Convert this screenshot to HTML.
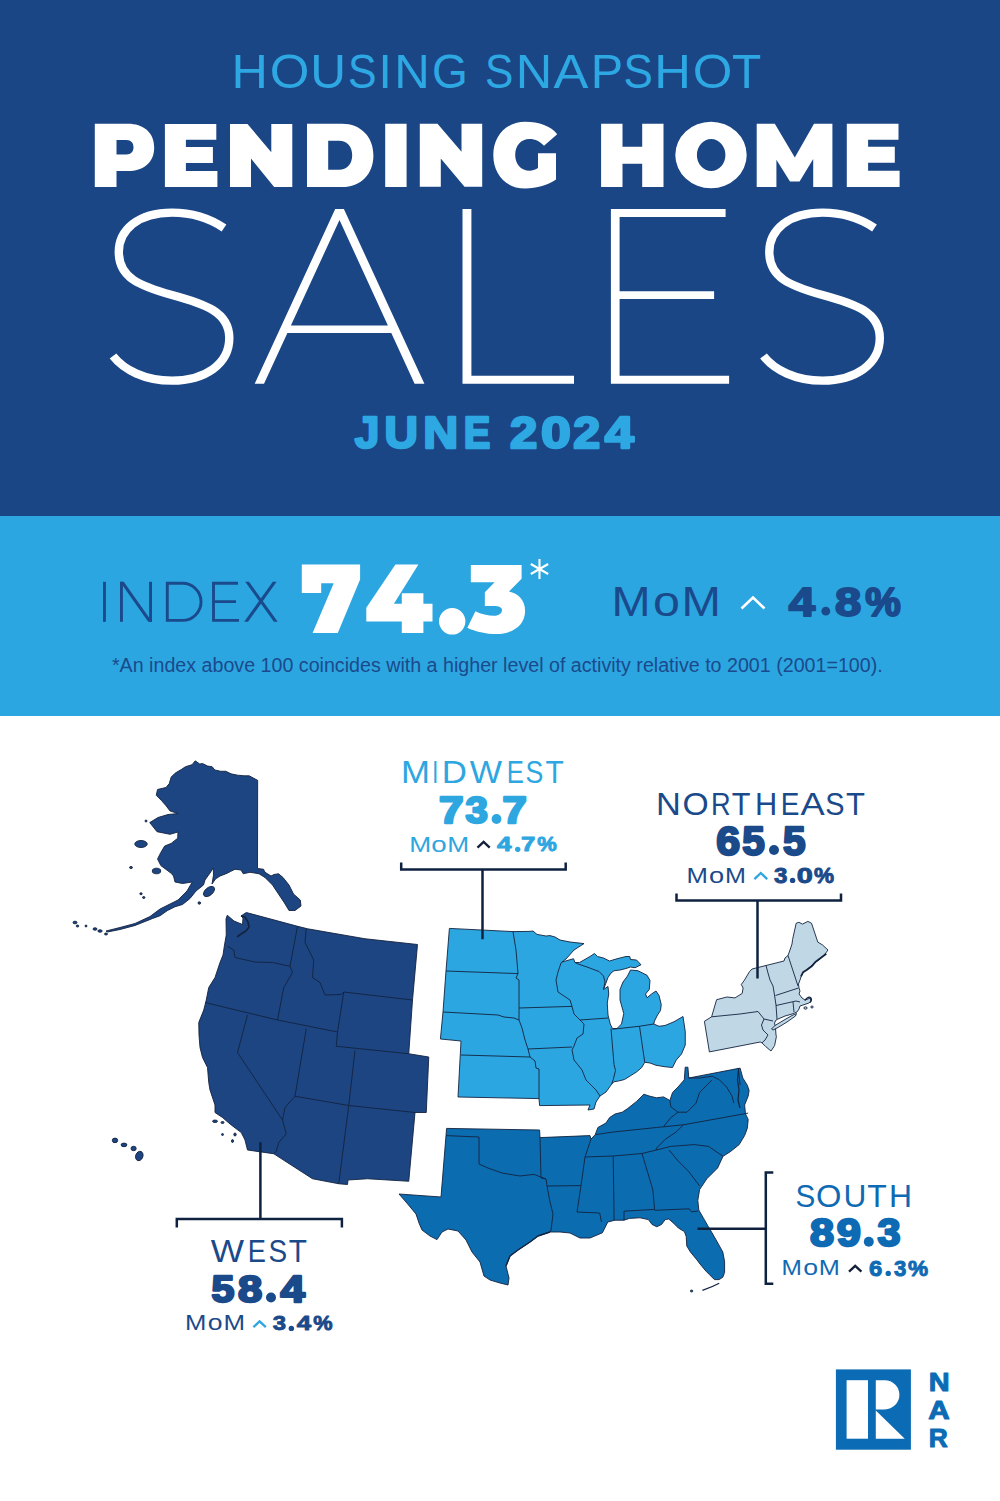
<!DOCTYPE html>
<html><head><meta charset="utf-8"><title>Pending Home Sales June 2024</title>
<style>
html,body{margin:0;padding:0;background:#fff;width:1000px;height:1501px;overflow:hidden}
svg{display:block}
text{font-family:"Liberation Sans",sans-serif}
</style></head><body>
<svg width="1000" height="1501" viewBox="0 0 1000 1501">
<rect x="0" y="0" width="1000" height="516" fill="#1b4686"/>
<rect x="0" y="516" width="1000" height="200" fill="#2ca6e0"/>
<!-- HEADER -->
<text id="t_hs_0" x="231.43" y="88.4" font-size="48.44" fill="#2ea8e2" textLength="36.39" lengthAdjust="spacingAndGlyphs">H</text>
<text id="t_hs_1" x="269.7" y="88.4" font-size="48.44" fill="#2ea8e2" textLength="39.66" lengthAdjust="spacingAndGlyphs">O</text>
<text id="t_hs_2" x="310.36" y="88.4" font-size="48.44" fill="#2ea8e2" textLength="35.78" lengthAdjust="spacingAndGlyphs">U</text>
<text id="t_hs_3" x="347.98" y="88.4" font-size="48.44" fill="#2ea8e2" textLength="28.57" lengthAdjust="spacingAndGlyphs">S</text>
<text id="t_hs_4" x="378.4" y="88.4" font-size="48.44" fill="#2ea8e2" textLength="13.34" lengthAdjust="spacingAndGlyphs">I</text>
<text id="t_hs_5" x="394.16" y="88.4" font-size="48.44" fill="#2ea8e2" textLength="35.52" lengthAdjust="spacingAndGlyphs">N</text>
<text id="t_hs_6" x="431.98" y="88.4" font-size="48.44" fill="#2ea8e2" textLength="35.83" lengthAdjust="spacingAndGlyphs">G</text>
<text id="t_hs_7" x="484.91" y="88.4" font-size="48.44" fill="#2ea8e2" textLength="28.35" lengthAdjust="spacingAndGlyphs">S</text>
<text id="t_hs_8" x="515.67" y="88.4" font-size="48.44" fill="#2ea8e2" textLength="36.48" lengthAdjust="spacingAndGlyphs">N</text>
<text id="t_hs_9" x="553.49" y="88.4" font-size="48.44" fill="#2ea8e2" textLength="34.89" lengthAdjust="spacingAndGlyphs">A</text>
<text id="t_hs_10" x="590.8" y="88.4" font-size="48.44" fill="#2ea8e2" textLength="32.37" lengthAdjust="spacingAndGlyphs">P</text>
<text id="t_hs_11" x="623.43" y="88.4" font-size="48.44" fill="#2ea8e2" textLength="29.39" lengthAdjust="spacingAndGlyphs">S</text>
<text id="t_hs_12" x="654.35" y="88.4" font-size="48.44" fill="#2ea8e2" textLength="36.63" lengthAdjust="spacingAndGlyphs">H</text>
<text id="t_hs_13" x="692.7" y="88.4" font-size="48.44" fill="#2ea8e2" textLength="39.66" lengthAdjust="spacingAndGlyphs">O</text>
<text id="t_hs_14" x="731.9" y="88.4" font-size="48.44" fill="#2ea8e2" textLength="29.28" lengthAdjust="spacingAndGlyphs">T</text>
<g fill="#fff" stroke="#fff" stroke-width="6" stroke-linejoin="round" font-weight="bold">
</g>
<g fill="#fff" fill-rule="evenodd">
<path d="M94.8,123.8 H128 C143,123.8 154.2,132 154.2,147.5 C154.2,163 143,171 128,171 H116.5 V187 H94.8 Z M116.5,140 V154.5 H126.5 C131,154.5 133.5,151.6 133.5,147.3 C133.5,143 131,140 126.5,140 Z"/>
<path d="M164.9,123.9 H216.3 V139.7 H185.9 V147.1 H212.9 V163.1 H185.9 V170.9 H217.4 V186.9 H164.9 Z"/>
<path d="M230,123.9 H247.5 L271.3,152.3 V123.9 H292.3 V186.9 H274.1 L251,158.6 V186.9 H230 Z"/>
<path d="M307,123.8 H342 C361,123.8 373.4,137 373.4,155.4 C373.4,174 361,187 342,187 H307 Z M328.2,140.8 V169.8 H339 C347,169.8 352.2,164 352.2,155.3 C352.2,146.6 347,140.8 339,140.8 Z"/>
<path d="M385.2,123.8 H406.6 V187 H385.2 Z"/>
<path d="M419.8,123.7 H437.5 L461.5,151.75 V123.7 H482.2 V186.7 H464.5 L440.8,158.5 V186.7 H419.8 Z"/>
<path d="M557.2,134.2 C551,126 539,121.75 525.25,121.75 C506,121.75 493.3,136 493.3,155.1 C493.3,174.5 506,188.5 525.25,188.5 C537,188.5 548,185 556,179.5 V153.25 H538 V168 C535,169.8 532,170.8 529.75,170.8 C521,170.8 515.2,164 515.2,155 C515.2,145.5 521,139 529.5,139 C535.5,139 540,141.5 544,145.75 Z"/>
<path d="M601.1,123.8 H622.5 V146.7 H642.2 V123.8 H663.5 V187 H642.2 V163.8 H622.5 V187 H601.1 Z"/>
<path d="M675.3,155 A35.7,33.3 0 1 0 746.7,155 A35.7,33.3 0 1 0 675.3,155 Z M696.9,155 A14.25,16 0 1 1 725.4,155 A14.25,16 0 1 1 696.9,155 Z"/>
<path d="M756.7,123.8 H774.8 L794.8,157.4 L814,123.8 H832.4 V187 H813.2 V159 L799.6,181.4 H790 L776.4,159.8 V187 H756.7 Z"/>
<path d="M846.8,123.8 H898.5 V139.8 H868.1 V146.7 H894.8 V162.7 H868.1 V170.7 H899.6 V187 H846.8 Z"/>
</g>
<!-- SALES -->
<path fill="#fff" fill-rule="evenodd" d="M254.7,383.8 L335.2,209.1 L343.9,209.1 L424.4,383.8 L414.6,383.8 L391.3,333 L287.4,333 L264,383.8 Z M290.9,325.5 L339.5,220 L387.9,325.5 Z"/>
<path fill="#fff" d="M462.5,209.1 H471.4 V375.7 H574 V383.8 H462.5 Z M610.9,209.1 H725.6 V217.1 H619.6 V291.3 H714.1 V299.1 H619.6 V375.7 H729.1 V383.8 H610.9 Z"/>
<g fill="none" stroke="#fff" stroke-width="8.4">
<path d="M224,228 C210,218.5 192,212.6 172,212.6 C138,212.6 118.8,230 118.8,252 C118.8,278 140,286 172,295 C205,304 229.3,312 229.3,338 C229.3,364 205,380.6 172,380.6 C145,380.6 124,370 113,356"/>
<path transform="translate(650.5,0)" d="M224,228 C210,218.5 192,212.6 172,212.6 C138,212.6 118.8,230 118.8,252 C118.8,278 140,286 172,295 C205,304 229.3,312 229.3,338 C229.3,364 205,380.6 172,380.6 C145,380.6 124,370 113,356"/>
</g>
<g fill="#2ea8e2" stroke="#2ea8e2" stroke-width="2.5" stroke-linejoin="round" font-weight="bold">
<text id="t_june_0" x="354.7" y="447.64" font-size="45.07" textLength="24.52" lengthAdjust="spacingAndGlyphs">J</text>
<text id="t_june_1" x="384.63" y="447.64" font-size="45.07" textLength="33.41" lengthAdjust="spacingAndGlyphs">U</text>
<text id="t_june_2" x="423.36" y="447.64" font-size="45.07" textLength="34.92" lengthAdjust="spacingAndGlyphs">N</text>
<text id="t_june_3" x="463.75" y="447.64" font-size="45.07" textLength="26.56" lengthAdjust="spacingAndGlyphs">E</text>
<text id="t_2024_0" x="510.13" y="447.64" font-size="45.07" textLength="27.24" lengthAdjust="spacingAndGlyphs">2</text>
<text id="t_2024_1" x="541.02" y="447.64" font-size="45.07" textLength="29.85" lengthAdjust="spacingAndGlyphs">0</text>
<text id="t_2024_2" x="573.27" y="447.64" font-size="45.07" textLength="26.91" lengthAdjust="spacingAndGlyphs">2</text>
<text id="t_2024_3" x="604.68" y="447.64" font-size="45.07" textLength="29.07" lengthAdjust="spacingAndGlyphs">4</text>
</g>
<!-- INDEX BAND -->
<g fill="#1b4a8c">
<rect x="103" y="581.8" width="2.9" height="40"/>
<rect x="120" y="581.8" width="2.9" height="40"/>
<rect x="149.1" y="581.8" width="2.9" height="40"/>
<polygon points="120,581.8 123.8,581.8 152,621.8 148.2,621.8"/>
<polygon points="245.2,581.8 249,581.8 277.7,621.8 273.9,621.8"/>
<polygon points="272.8,581.8 276.6,581.8 248,621.8 244.2,621.8"/>
</g>
<g fill="none" stroke="#1b4a8c" stroke-width="2.9">
<path d="M167.3,583.25 H182.5 A18.55,18.55 0 0 1 182.5,620.35 H167.3 Z"/>
<path d="M238,583.25 H213.5 V620.35 H239 M213.5,601.6 H236"/>
</g>
<path d="M539.5,559 V579.1 M530.8,564 L548.2,574 M530.8,574 L548.2,564" stroke="#fff" stroke-width="2.1" fill="none"/>
<g fill="#fff" stroke="#fff" stroke-width="6" stroke-linejoin="round" font-weight="bold">
<circle cx="452.2" cy="621.3" r="10.2"/>
<g stroke="none">
<path d="M301.8,564.5 H360.1 V579.6 L337.8,632.9 H312.6 L333.7,583.2 H321.2 V592.9 H301.8 Z"/>
<path d="M395.4,564.5 H418.4 L393.9,603.8 H401.8 V593.3 H423.4 V603.8 H432.5 V621.4 H423.4 V632.9 H401.8 V621.4 H366.3 V607.7 Z"/>
<path d="M470.85,565 H521.6 V578.65 L509,591.6 C518,593.5 525.1,600 525.1,611 C525.1,625 513,634 496.4,634 C486,634 475,631.5 467.35,627.65 L475.4,611.2 C481,614 488,615.75 494,615.75 C499,615.75 502,613 502,610 C502,607.5 499,606 493.6,606 H484.85 V592.3 L494.65,582.15 H470.85 Z"/>
</g>
</g>
<text id="t_mom0_0" x="611.58" y="615.83" font-size="42.14" fill="#1b4a8c" textLength="39.07" lengthAdjust="spacingAndGlyphs">M</text>
<text id="t_mom0_1" x="653.09" y="615.83" font-size="42.14" fill="#1b4a8c" textLength="26.91" lengthAdjust="spacingAndGlyphs">o</text>
<text id="t_mom0_2" x="681.52" y="615.83" font-size="42.14" fill="#1b4a8c" textLength="39.41" lengthAdjust="spacingAndGlyphs">M</text>
<polyline points="741.5,608.5 753,597.5 764.5,608.5" fill="none" stroke="#fff" stroke-width="2.6"/>
<text id="t_48_0" x="788.72" y="615.5" font-size="40.13" fill="#1b4a8c" stroke="#1b4a8c" stroke-width="2" stroke-linejoin="round" font-weight="bold" textLength="26.34" lengthAdjust="spacingAndGlyphs">4</text>
<text id="t_48_2" x="834.94" y="615.5" font-size="40.13" fill="#1b4a8c" stroke="#1b4a8c" stroke-width="2" stroke-linejoin="round" font-weight="bold" textLength="26.27" lengthAdjust="spacingAndGlyphs">8</text>
<text id="t_48_3" x="865.15" y="615.5" font-size="40.13" fill="#1b4a8c" stroke="#1b4a8c" stroke-width="2" stroke-linejoin="round" font-weight="bold" textLength="35.5" lengthAdjust="spacingAndGlyphs">%</text>
<text id="t_foot" x="111.98" y="671.75" font-size="19.6" fill="#1b4a8c" textLength="770.76" lengthAdjust="spacingAndGlyphs">*An index above 100 coincides with a higher level of activity relative to 2001 (2001=100).</text>
<!-- MAP -->
<g fill="#1c4582" stroke="#13233f" stroke-width="0.9" stroke-linejoin="round">
<path d="M227.25,915.25 234,921 242.5,924.5 243,918 241,916 246.25,912.5 297.5,926.25 307.5,928.75 365,938.75 417.5,944.5 412.5,1000 408.75,1053.75 428.75,1057 426.25,1112.5 415,1112.5 408.75,1181.25 367.5,1178.75 348,1180 347.5,1184.5 338.75,1183.75 312.5,1178.75 273.75,1153.75 247.5,1150 245,1140 241.25,1132.5 231.25,1125 222.5,1117.5 215,1112.5 215,1105 210,1090 208.75,1082.5 207.5,1067.5 202.5,1057.5 200,1047.5 199,1035 198.75,1022.5 203.75,1010 206.25,1000 208.75,987.5 215,977.5 220,962.5 223,955 224.5,945 226.25,935 226,919Z"/>
<path fill="none" stroke-width="1.6" d="M241,916 L245,917 L248,922 L249,927 L246,931 L241,934 L237,937"/>
<path fill="none" d="M227.5,946.25 233.75,950 235,957.5 255,962 272.5,962.5 290,966.25 M297.5,926.25 290,966.25 M290,966.25 292.5,972.5 283.75,987.5 277.5,1020 M205,1002.5 277.5,1020 M277.5,1020 337.5,1032 M306.25,928.75 305,942.5 313.75,960 312.5,977.5 320,982.5 325,995 341.25,994.5 343.75,992 M343.75,992 337.5,1032 336.25,1046.25 408.75,1053.75 M343.75,992 412.5,1000 M355,1050.5 348.75,1105.5 338.75,1183.75 M348.75,1105.5 415,1112.5 M306.25,1028.75 295,1096.25 348.75,1105.5 M295,1096.25 285,1107.5 282.5,1120 286.25,1133.75 278.75,1142.5 276.25,1151.25 273.75,1153.75 M247.5,1015 237.5,1052.5 282.5,1120"/>
</g>
<g fill="#1c4582" stroke="#13233f" stroke-width="0.9" stroke-linejoin="round">
<path d="M195.25,760.85 199.8,764.1 202.4,763.45 207.6,766.05 212.15,766.7 214.75,769.95 220.6,771.25 225.8,771.25 231,773.85 237.5,775.15 244,775.8 249.2,775.8 257.65,780.35 257.5,868.5 263.5,869.25 265,872.25 271,876 274,874.5 278.5,873.75 283,877.5 289,885 293.5,894 300.25,900 301,906 295,910.5 289,910.5 284.5,903 278.5,894 272.5,885 265,877.5 259,873.75 250,872.25 243.25,873.75 241,870 235,869.25 230.5,871.5 226,873.75 220,876 215.5,879 212,884 213.5,875 213.25,868 210,873 205,880 203.5,885 196,891 190,898.5 182.5,904.5 175,906.75 167.5,910.5 160,915.75 152.5,918.5 135,925.5 120,929.5 107.5,932 106,931 120,927.5 135,923.5 150,916.5 160,909 169,904.5 178,900 187,891 192.25,882 182.5,883.5 175,882 173.5,876 171.2,873.3 166,869.4 160.8,865.5 157.55,859 160.8,852.5 164.7,846 171.2,843.4 177.7,838.2 178,832 170,834.3 157,831.7 149.75,822.6 158,817.5 168,814.5 178,813.5 170,810.9 166,805.7 161.45,800.5 156.25,795.3 157.55,789.45 166,787.5 169.25,783.6 171.2,777.1 175.1,773.2 181.6,769.3 185.5,766.7 192,764.75Z"/>
<ellipse cx="141" cy="844" rx="6.25" ry="3.5"/>
<ellipse cx="156.5" cy="871" rx="4.2" ry="2.8"/>
<ellipse cx="131" cy="867.5" rx="1.5" ry="1"/>
<ellipse cx="141" cy="893.75" rx="1.2" ry="1"/>
<ellipse cx="143.75" cy="897.5" rx="1.2" ry="1"/>
<ellipse cx="199.3" cy="903" rx="1.3" ry="1.2"/>
<ellipse cx="146" cy="821" rx="1" ry="1"/>
<ellipse cx="75" cy="922.5" rx="2" ry="1.3"/>
<ellipse cx="77.5" cy="926" rx="1.3" ry="1"/>
<ellipse cx="86" cy="926" rx="1" ry="1"/>
<ellipse cx="95" cy="929" rx="2" ry="1.2"/>
<ellipse cx="100" cy="931" rx="2.2" ry="1.2"/>
<ellipse cx="106" cy="934" rx="1.5" ry="1"/>
<ellipse cx="209" cy="891.5" rx="6.5" ry="3.8" transform="rotate(-40 209 891.5)"/>
<ellipse cx="115" cy="1140.4" rx="2.7" ry="2.3"/>
<ellipse cx="124" cy="1144.9" rx="2.9" ry="1.8"/>
<ellipse cx="133.6" cy="1148.5" rx="2.6" ry="2.2"/>
<ellipse cx="139.3" cy="1156" rx="3.6" ry="4.8" transform="rotate(20 139.3 1156)"/>
<ellipse cx="215" cy="1121.25" rx="2.5" ry="1.2"/>
<ellipse cx="222.5" cy="1122.5" rx="1.5" ry="1"/>
<ellipse cx="222.5" cy="1134.5" rx="1" ry="1"/>
<ellipse cx="235" cy="1134.5" rx="1.2" ry="1.5"/>
<ellipse cx="232.5" cy="1141" rx="1" ry="1.5"/>
</g>
<g fill="#2ca6e1" stroke="#13233f" stroke-width="0.9" stroke-linejoin="round">
<path d="M449.4,928.4 513,931.6 529,931.4 533,931 537,934.4 546,936 550,935.6 555,937 560,940 570,942 584,943.6 574,950 566,959 562,962 573.5,958.75 575,962.5 579.5,962.5 590,956.5 594.5,953.5 597.5,956.5 603.5,958 609.5,961 617,958.75 626,956.5 629.75,956.5 630.5,959.5 636.5,960 641,964.75 635,967.75 630.5,967 626,968.5 620,970 614,970.75 611,973 608,977.5 605.75,983.5 603.5,989.5 608,986.5 608.75,994 607.25,1003 608,1015 610.25,1024 612.5,1028.5 617,1028.5 621.5,1024 623.75,1013.5 620,1000 620,989.5 623,982 627.5,976 630.5,970 638,970.75 647,975.25 650,980.5 649.25,989.5 645.5,994 647,997.75 651.5,994 656,991 659,995.5 661.25,1004.5 660.5,1010.5 657.5,1015 654.5,1021 653.75,1024 659,1026.25 665,1025.5 674,1021.75 683,1016.5 685.25,1031.5 685.25,1045 681.5,1054 676.25,1060 672.5,1067.5 665,1066.75 656,1065.25 650,1063 644.75,1062.25 641.75,1067.5 636.5,1072 630.5,1075.75 624.5,1079.5 618.5,1081 614,1081.75 611.75,1084 606,1092 600,1096 596,1102 594,1109 588,1110 590,1105 539.6,1105.6 539,1098.6 458,1097 461,1041 440.4,1039 443,1012 446,971Z"/>
<path fill="none" d="M446,971 518,973.6 M513,931.6 516,950 518,973.6 516,978 519,980 519,1008 519,1020 M443,1012 498,1015 504,1017 514,1018 519,1020 M519,1008 572,1006.4 M572,1006.4 570,1000 558,992 556,980 558,972 561,963 562,962 M519,1020 522,1028 525,1040 528,1049 530,1057 M461,1055 530,1057 535,1061 536,1068 539,1069 539,1098.6 M528,1049 572,1047 M572,1006.4 574,1014 580,1020 584,1024 583,1034 577,1038 574,1046 572,1050 574,1060 582,1070 586,1080 590,1084 596,1090 600,1096 M580,1020 608,1018 M611,1028.5 614,1064.5 615.5,1070.5 613.25,1079.5 611.75,1084 M612.5,1029.25 639.5,1026.25 653.75,1024 M639.5,1026.25 644.75,1062.25 M575,962.5 578,964 587,967 599,971.5 603.5,976 605,982 603.5,989.5"/>
</g>
<g fill="#c0d8e6" stroke="#13233f" stroke-width="0.9" stroke-linejoin="round">
<path d="M709.4,1051.9 704.4,1021.3 711.6,1016.8 716.6,999.7 726.9,997 735,997.9 742.2,993.4 743.1,988 741.3,984.4 744,980.8 749.4,971.8 752,969 766,965.5 784,961 785,958 788,955.5 790,950 792,944 792.6,939.4 796.2,923.2 798.9,922.3 802.5,924.1 807.9,921.4 811.5,923.2 817.8,942.1 822.3,944.8 828,950 825,954 820,959 814,963 810,967 805,971 802,974 800,980 798.5,984 799,988 800,991 799,994 802,998 805,1000 808,999 810,998 811,1001 809,1003 806,1004 803,1005 800,1006 799,1009 797,1012 792,1014 785,1016 778,1019 776,1020 774.5,1023 775.5,1028 776,1035 776.4,1036.6 774.6,1045.6 771,1051 765.6,1046.5 762,1042.9 760.2,1042Z"/>
<path d="M771.5,1029 775,1025.5 785,1019.5 792,1015.5 796.5,1013.5 795.5,1016 787,1022 778,1027.5 773,1030Z"/>
<path fill="none" stroke-width="1.8" d="M801,976.3 L803,972.3 L807,969.7 L811.7,966.3 L815.7,961.7 L821,957.7 L826.3,953.7"/>
<path fill="none" stroke-width="1.3" d="M805,1000.5 Q808,996 810.5,997.5 Q812.5,1000 810,1002.5"/>
<ellipse cx="805.5" cy="1008" rx="1.6" ry="1.2"/><ellipse cx="812" cy="1007" rx="1.2" ry="1"/>
<path fill="none" d="M711.6,1016.8 740,1014 758,1011.5 760,1014 764,1019 773,1021 M764,1019 761.5,1025 763,1030 768,1035 765,1040 762,1042.9 M766,965.5 768,973 770,980 773,986 774.5,995 776,1005 777,1019 M788,955.5 798,986 M775.5,995.5 798.5,988 M776,1005.5 796,1001 800,1002 M793,1002 794,1012"/>
</g>
<g fill="#0b6cb0" stroke="#13233f" stroke-width="0.9" stroke-linejoin="round">
<path d="M446.6,1128.4 539.6,1130 540,1137.6 590,1135.6 591,1139 595.2,1134.7 597.9,1127.5 606,1123 609.6,1117.6 615,1114 622.2,1112.2 627.6,1108.6 636.6,1101.4 643.8,1094.2 649.2,1096 656.4,1097.8 663.6,1096.9 669.9,1100.5 672.6,1092.4 678,1087 684.3,1079.8 685.2,1067.2 687.9,1067.2 688.8,1078 740.1,1068.1 742.8,1078 747.3,1085.2 749.1,1090.6 748.2,1096 744.6,1105 745.5,1114 748.2,1119.4 747.3,1128.4 744.6,1135.6 739.2,1144.6 730.2,1151.8 723,1156.3 717.6,1168 706.8,1178.8 699.6,1189.6 697.8,1200.4 698.8,1210 703.6,1218.4 708.4,1226.8 712,1232.8 716.8,1241.2 722.8,1252 724.6,1261.6 724.6,1272.4 722.8,1277.2 719.2,1279.6 714.4,1279.6 709.6,1274.8 706,1271.2 700,1264 696.4,1259.2 690.4,1252 686.8,1246 686.2,1236.4 684.4,1231.6 678.4,1228 673.6,1223.2 668.8,1219 665.2,1219.6 661.6,1224.4 656.8,1226.8 652,1224.4 648.4,1219.6 640,1217.8 629.4,1218.4 624,1220.2 615,1220.2 607.8,1222 602.4,1232.8 590,1238 580,1238 570,1233 560,1232 550,1232 538,1236 530,1242 518,1250 510,1256 506,1266 509,1278 508,1285 500,1283 490,1280 484,1276 480,1262 472,1252 466,1240 458,1231 448,1229 442,1232 437,1239.6 430,1236 422,1230 419,1223 416,1214 406,1202 399,1194 441,1197 446,1135.6Z"/>
<path fill="none" stroke-width="1.4" d="M506,1266 L510,1256 L518,1250 L530,1242 L538,1236 L550,1232"/>
<path fill="none" stroke-width="1.2" d="M738.5,1070 L737.5,1080 L739,1090 L738,1100 L740,1108"/>
<path fill="none" stroke="#13233f" stroke-width="1.2" d="M702.4,1290.4 Q712,1287 719.2,1283.2"/><ellipse cx="691.6" cy="1291" rx="1.2" ry="1"/>
<path fill="none" d="M446,1135.6 479,1137 479,1164 488,1168 502,1173 520,1176 534,1174.4 546,1179 M540,1137.6 541,1178 546,1179 547,1186 550,1202 553,1214 551,1230 550,1232 M547,1186 581,1185.6 M591,1139 585,1157 581,1185.6 577,1212 599.7,1213 601.5,1222 M595.2,1134.7 613.2,1132 656.4,1127.5 683.4,1124.8 748.2,1113.1 M663.6,1126.6 670.8,1117.6 678,1112.2 M669.9,1100.5 670.8,1106.8 678,1112.2 687,1112.2 696,1103.2 699.6,1092.4 706.8,1085.2 712.2,1079.8 M688.8,1078 699.6,1078 712.2,1076.2 719.4,1079.8 726.6,1087 732,1096 733.8,1103.2 M738.3,1068.1 740.1,1085.2 M683.4,1124.8 676.2,1132 665.4,1139.2 656.4,1148.2 656.4,1150 M585,1157 613.2,1156 642,1153.5 656.4,1150 670.8,1146.4 694.2,1144.6 708.6,1146.4 723,1156.3 M669,1150 678,1160.8 688.8,1171.6 699.6,1186 M613.2,1156.3 614.1,1220.2 M642,1153.6 652.8,1189.6 654.6,1209.4 624,1211.2 624,1220.2 M654.6,1210.3 689.2,1208.8 691.6,1211.8 698,1211"/>
</g>
<!-- /MAP -->
<!-- REGION LABELS -->
<g>
<text id="r_mw_0" font-size="31.96" x="400.96" y="782.98" fill="#2ea6e0" textLength="28.98" lengthAdjust="spacingAndGlyphs">M</text>
<text id="r_mw_1" font-size="31.96" x="432.3" y="782.98" fill="#2ea6e0" textLength="6.03" lengthAdjust="spacingAndGlyphs">I</text>
<text id="r_mw_2" font-size="31.96" x="441.86" y="782.98" fill="#2ea6e0" textLength="25.17" lengthAdjust="spacingAndGlyphs">D</text>
<text id="r_mw_3" font-size="31.96" x="469.7" y="782.98" fill="#2ea6e0" textLength="32.3" lengthAdjust="spacingAndGlyphs">W</text>
<text id="r_mw_4" font-size="31.96" x="506.63" y="782.98" fill="#2ea6e0" textLength="17.12" lengthAdjust="spacingAndGlyphs">E</text>
<text id="r_mw_5" font-size="31.96" x="525.44" y="782.98" fill="#2ea6e0" textLength="17.82" lengthAdjust="spacingAndGlyphs">S</text>
<text id="r_mw_6" font-size="31.96" x="545.62" y="782.98" fill="#2ea6e0" textLength="18.28" lengthAdjust="spacingAndGlyphs">T</text>
<text id="r_ne_0" font-size="30.44" x="655.91" y="814.66" fill="#1b4a8a" textLength="24.81" lengthAdjust="spacingAndGlyphs">N</text>
<text id="r_ne_1" font-size="30.44" x="682.55" y="814.66" fill="#1b4a8a" textLength="26.21" lengthAdjust="spacingAndGlyphs">O</text>
<text id="r_ne_2" font-size="30.44" x="711.11" y="814.66" fill="#1b4a8a" textLength="19.65" lengthAdjust="spacingAndGlyphs">R</text>
<text id="r_ne_3" font-size="30.44" x="731.82" y="814.66" fill="#1b4a8a" textLength="18.71" lengthAdjust="spacingAndGlyphs">T</text>
<text id="r_ne_4" font-size="30.44" x="754.91" y="814.66" fill="#1b4a8a" textLength="22.25" lengthAdjust="spacingAndGlyphs">H</text>
<text id="r_ne_5" font-size="30.44" x="780.65" y="814.66" fill="#1b4a8a" textLength="18.67" lengthAdjust="spacingAndGlyphs">E</text>
<text id="r_ne_6" font-size="30.44" x="800.5" y="814.66" fill="#1b4a8a" textLength="24.2" lengthAdjust="spacingAndGlyphs">A</text>
<text id="r_ne_7" font-size="30.44" x="825.28" y="814.66" fill="#1b4a8a" textLength="19.28" lengthAdjust="spacingAndGlyphs">S</text>
<text id="r_ne_8" font-size="30.44" x="846" y="814.66" fill="#1b4a8a" textLength="18.93" lengthAdjust="spacingAndGlyphs">T</text>
<text id="r_w_0" font-size="31.28" x="210.67" y="1262.02" fill="#1b4a8a" textLength="33.29" lengthAdjust="spacingAndGlyphs">W</text>
<text id="r_w_1" font-size="31.28" x="247.71" y="1262.02" fill="#1b4a8a" textLength="18.15" lengthAdjust="spacingAndGlyphs">E</text>
<text id="r_w_2" font-size="31.28" x="268.5" y="1262.02" fill="#1b4a8a" textLength="18.61" lengthAdjust="spacingAndGlyphs">S</text>
<text id="r_w_3" font-size="31.28" x="288.63" y="1262.02" fill="#1b4a8a" textLength="18.17" lengthAdjust="spacingAndGlyphs">T</text>
<text id="r_s_0" font-size="31.14" x="795.49" y="1206.73" fill="#0f6ab4" textLength="19.82" lengthAdjust="spacingAndGlyphs">S</text>
<text id="r_s_1" font-size="31.14" x="816.01" y="1206.73" fill="#0f6ab4" textLength="25.45" lengthAdjust="spacingAndGlyphs">O</text>
<text id="r_s_2" font-size="31.14" x="843.55" y="1206.73" fill="#0f6ab4" textLength="22.88" lengthAdjust="spacingAndGlyphs">U</text>
<text id="r_s_3" font-size="31.14" x="867.39" y="1206.73" fill="#0f6ab4" textLength="19.48" lengthAdjust="spacingAndGlyphs">T</text>
<text id="r_s_4" font-size="31.14" x="888.97" y="1206.73" fill="#0f6ab4" textLength="23.03" lengthAdjust="spacingAndGlyphs">H</text>
</g>
<g font-weight="bold" stroke-width="2.4" stroke-linejoin="round">
<text id="n_mw_0" font-size="37.21" x="438.9" y="822.94" fill="#2ea6e0" stroke="#2ea6e0" textLength="24.57" lengthAdjust="spacingAndGlyphs">7</text>
<text id="n_mw_1" font-size="37.21" x="465.44" y="822.94" fill="#2ea6e0" stroke="#2ea6e0" textLength="22.36" lengthAdjust="spacingAndGlyphs">3</text>
<text id="n_mw_3" font-size="37.21" x="502.55" y="822.94" fill="#2ea6e0" stroke="#2ea6e0" textLength="24.26" lengthAdjust="spacingAndGlyphs">7</text>
<text id="n_ne_0" font-size="40.05" x="716.37" y="854.9" fill="#1b4a8a" stroke="#1b4a8a" textLength="23.88" lengthAdjust="spacingAndGlyphs">6</text>
<text id="n_ne_1" font-size="40.05" x="742.35" y="854.9" fill="#1b4a8a" stroke="#1b4a8a" textLength="22.51" lengthAdjust="spacingAndGlyphs">5</text>
<text id="n_ne_3" font-size="40.05" x="783.01" y="854.9" fill="#1b4a8a" stroke="#1b4a8a" textLength="22.53" lengthAdjust="spacingAndGlyphs">5</text>
<text id="n_w_0" font-size="37.68" x="211.56" y="1302.14" fill="#1b4a8a" stroke="#1b4a8a" textLength="22.84" lengthAdjust="spacingAndGlyphs">5</text>
<text id="n_w_1" font-size="37.68" x="238.03" y="1302.14" fill="#1b4a8a" stroke="#1b4a8a" textLength="24.19" lengthAdjust="spacingAndGlyphs">8</text>
<text id="n_w_3" font-size="37.68" x="280.51" y="1302.14" fill="#1b4a8a" stroke="#1b4a8a" textLength="24.37" lengthAdjust="spacingAndGlyphs">4</text>
<text id="n_s_0" font-size="39.15" x="810.07" y="1246.28" fill="#0f6ab4" stroke="#0f6ab4" textLength="24.04" lengthAdjust="spacingAndGlyphs">8</text>
<text id="n_s_1" font-size="39.15" x="836.66" y="1246.28" fill="#0f6ab4" stroke="#0f6ab4" textLength="24.13" lengthAdjust="spacingAndGlyphs">9</text>
<text id="n_s_3" font-size="39.15" x="877.42" y="1246.28" fill="#0f6ab4" stroke="#0f6ab4" textLength="23.02" lengthAdjust="spacingAndGlyphs">3</text>
</g>
<g>
<text id="m_mw_0" font-size="22.59" x="409.32" y="851.98" fill="#2ea6e0" textLength="21.98" lengthAdjust="spacingAndGlyphs">M</text>
<text id="m_mw_1" font-size="22.59" x="431.28" y="851.98" fill="#2ea6e0" textLength="15.4" lengthAdjust="spacingAndGlyphs">o</text>
<text id="m_mw_2" font-size="22.59" x="447.2" y="851.98" fill="#2ea6e0" textLength="21.91" lengthAdjust="spacingAndGlyphs">M</text>
<text id="m_ne_0" font-size="22.3" x="686.54" y="882.98" fill="#1b4a8a" textLength="21.39" lengthAdjust="spacingAndGlyphs">M</text>
<text id="m_ne_1" font-size="22.3" x="709.09" y="882.98" fill="#1b4a8a" textLength="15.16" lengthAdjust="spacingAndGlyphs">o</text>
<text id="m_ne_2" font-size="22.3" x="724.95" y="882.98" fill="#1b4a8a" textLength="20.9" lengthAdjust="spacingAndGlyphs">M</text>
<text id="m_w_0" font-size="21.7" x="185.14" y="1330.02" fill="#1b4a8a" textLength="21.4" lengthAdjust="spacingAndGlyphs">M</text>
<text id="m_w_1" font-size="21.7" x="207.82" y="1330.02" fill="#1b4a8a" textLength="14.77" lengthAdjust="spacingAndGlyphs">o</text>
<text id="m_w_2" font-size="21.7" x="223.4" y="1330.02" fill="#1b4a8a" textLength="21.57" lengthAdjust="spacingAndGlyphs">M</text>
<text id="m_s_0" font-size="22.59" x="781.6" y="1275.49" fill="#0f6ab4" textLength="20.35" lengthAdjust="spacingAndGlyphs">M</text>
<text id="m_s_1" font-size="22.59" x="803.37" y="1275.49" fill="#0f6ab4" textLength="14.85" lengthAdjust="spacingAndGlyphs">o</text>
<text id="m_s_2" font-size="22.59" x="818.79" y="1275.49" fill="#0f6ab4" textLength="21.07" lengthAdjust="spacingAndGlyphs">M</text>
</g>
<g font-weight="bold" stroke-width="0.9" stroke-linejoin="round">
<text id="p_mw_0" font-size="20.95" x="497.08" y="851.25" fill="#2ea6e0" stroke="#2ea6e0" textLength="14.52" lengthAdjust="spacingAndGlyphs">4</text>
<text id="p_mw_2" font-size="20.95" x="520.94" y="851.25" fill="#2ea6e0" stroke="#2ea6e0" textLength="14.36" lengthAdjust="spacingAndGlyphs">7</text>
<text id="p_mw_3" font-size="20.95" x="537.3" y="851.25" fill="#2ea6e0" stroke="#2ea6e0" textLength="19.5" lengthAdjust="spacingAndGlyphs">%</text>
<text id="p_ne_0" font-size="22" x="774.09" y="882.7" fill="#1b4a8a" stroke="#1b4a8a" textLength="13.42" lengthAdjust="spacingAndGlyphs">3</text>
<text id="p_ne_2" font-size="22" x="796.81" y="882.7" fill="#1b4a8a" stroke="#1b4a8a" textLength="16.1" lengthAdjust="spacingAndGlyphs">0</text>
<text id="p_ne_3" font-size="22" x="813.9" y="882.7" fill="#1b4a8a" stroke="#1b4a8a" textLength="20" lengthAdjust="spacingAndGlyphs">%</text>
<text id="p_w_0" font-size="21.1" x="272.74" y="1330.35" fill="#1b4a8a" stroke="#1b4a8a" textLength="13.22" lengthAdjust="spacingAndGlyphs">3</text>
<text id="p_w_2" font-size="21.1" x="296.89" y="1330.35" fill="#1b4a8a" stroke="#1b4a8a" textLength="14.39" lengthAdjust="spacingAndGlyphs">4</text>
<text id="p_w_3" font-size="21.1" x="313.3" y="1330.35" fill="#1b4a8a" stroke="#1b4a8a" textLength="19.3" lengthAdjust="spacingAndGlyphs">%</text>
<text id="p_s_0" font-size="22" x="869.1" y="1276" fill="#0f6ab4" stroke="#0f6ab4" textLength="13.3" lengthAdjust="spacingAndGlyphs">6</text>
<text id="p_s_2" font-size="22" x="893.9" y="1276" fill="#0f6ab4" stroke="#0f6ab4" textLength="12.35" lengthAdjust="spacingAndGlyphs">3</text>
<text id="p_s_3" font-size="22" x="907.9" y="1276" fill="#0f6ab4" stroke="#0f6ab4" textLength="20.1" lengthAdjust="spacingAndGlyphs">%</text>
</g>
<g fill="none" stroke-width="2.3">
<polyline points="477.5,847.6 483.6,841.8 489.7,847.6" stroke="#13203a"/>
<polyline points="754.4,879.2 760.8,873 767.2,879.2" stroke="#2ea6e0"/>
<polyline points="253.4,1327.2 259.6,1321.4 265.8,1327.2" stroke="#2ea6e0"/>
<polyline points="849,1271.7 855.2,1265.8 861.4,1271.7" stroke="#13203a"/>
</g>
<!-- DOTS -->
<circle cx="825.8" cy="611.2" r="4.4" fill="#1b4a8c"/>
<circle cx="496.5" cy="819" r="4.9" fill="#2ea6e0"/>
<circle cx="774" cy="850" r="5" fill="#1b4a8a"/>
<circle cx="271" cy="1297.5" r="5" fill="#1b4a8a"/>
<circle cx="868.8" cy="1241.7" r="5" fill="#0f6ab4"/>
<circle cx="517.75" cy="849.35" r="2.7" fill="#2ea6e0"/>
<circle cx="792.6" cy="880.4" r="2.7" fill="#1b4a8a"/>
<circle cx="291.35" cy="1328.4" r="2.7" fill="#1b4a8a"/>
<circle cx="888.25" cy="1273.4" r="2.7" fill="#0f6ab4"/>
<!-- BRACKETS -->
<g fill="none" stroke="#0e2240" stroke-width="2.5">
<path d="M401.2,862.4 V869.6 H565.7 V862.4 M482.5,869.6 V939.3"/>
<path d="M676.5,893.4 V900.4 H841 V893.4 M757.5,900.4 V978.6"/>
<path d="M176.8,1227.6 V1219.1 H341.9 V1227.6 M260.4,1219.1 V1142.2"/>
<path d="M773.3,1172.5 H765.8 V1283.8 H773.3 M765.8,1228.8 H697.5"/>
</g>
<!-- LOGO -->
<rect x="835.9" y="1369.4" width="75" height="80.3" fill="#0b6cb5"/>
<rect x="846.6" y="1380.2" width="21.4" height="58.5" fill="#fff"/>
<path fill="#fff" d="M875.8,1380.2 H884.8 A14.6,14.6 0 0 1 884.8,1409.4 H875.8 Z M875.8,1410.6 L904.75,1438.7 H875.8 Z"/>
<g fill="#0b6cb5" stroke="#0b6cb5" stroke-width="1" stroke-linejoin="round" font-weight="bold">
<text id="l_n" x="928.84" y="1390.63" font-size="25.57" textLength="20.93" lengthAdjust="spacingAndGlyphs">N</text>
<text id="l_a" x="928.22" y="1418.74" font-size="25.23" textLength="21.47" lengthAdjust="spacingAndGlyphs">A</text>
<text id="l_r" x="928.86" y="1447.22" font-size="25.76" textLength="19.03" lengthAdjust="spacingAndGlyphs">R</text>
</g>
</svg>
</body></html>
